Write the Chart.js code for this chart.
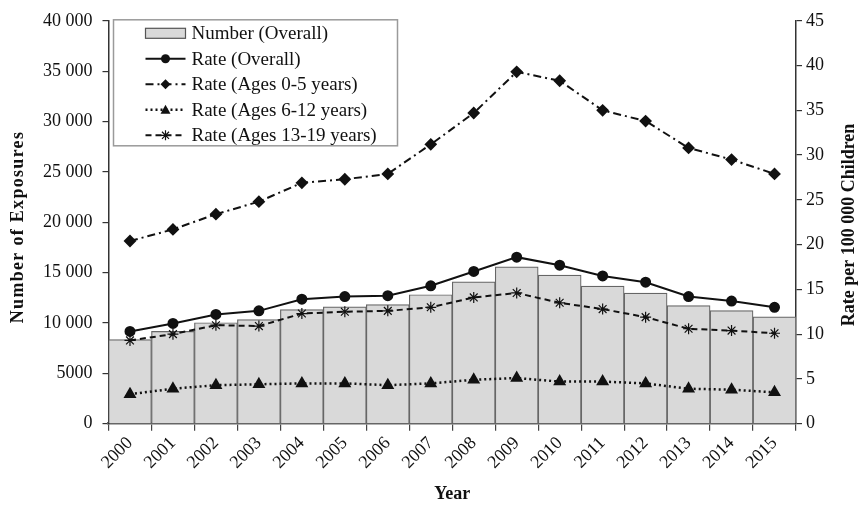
<!DOCTYPE html>
<html>
<head>
<meta charset="utf-8">
<script src="https://cdn.jsdelivr.net/npm/chart.js@4.4.1/dist/chart.umd.min.js"></script>
<style>
    html, body { margin: 0; padding: 0; background: #fff; }
    #wrap { position: relative; width: 862px; height: 505px; }
</style>
</head>
<body>
<div id="wrap"><canvas id="chart"></canvas></div>
<script>
// data
const years = ['2000', '2001', '2002', '2003', '2004', '2005', '2006', '2007',
               '2008', '2009', '2010', '2011', '2012', '2013', '2014', '2015'];
const numberOverall = [8350, 9160, 10020, 10340, 11330, 11590, 11820, 12800,
                       14090, 15570, 14750, 13660, 12970, 11720, 11230, 10610];
const rateOverall = [10.3, 11.2, 12.2, 12.6, 13.9, 14.2, 14.3, 15.4,
                     17.0, 18.6, 17.7, 16.5, 15.8, 14.2, 13.7, 13.0];
const rateAges0to5 = [20.4, 21.7, 23.4, 24.8, 26.9, 27.3, 27.9, 31.2,
                      34.7, 39.3, 38.3, 35.0, 33.8, 30.8, 29.5, 27.9];
const rateAges6to12 = [3.3, 3.9, 4.3, 4.4, 4.5, 4.5, 4.3, 4.5,
                       4.9, 5.1, 4.7, 4.7, 4.5, 3.9, 3.8, 3.5];
const rateAges13to19 = [9.3, 10.0, 11.0, 10.9, 12.3, 12.5, 12.6, 13.0,
                        14.1, 14.6, 13.5, 12.8, 11.9, 10.6, 10.4, 10.1];
const leftTickLabels = ['0', '5000', '10 000', '15 000', '20 000', '25 000', '30 000', '35 000', '40 000'];

const serif = '"Liberation Serif", "Times New Roman", serif';
const ink = '#111';

const legendItems = [
    { text: 'Number (Overall)', bar: true },
    { text: 'Rate (Overall)', dash: [], marker: 'circle' },
    { text: 'Rate (Ages 0-5 years)', dash: [8, 4, 2, 4], marker: 'diamond' },
    { text: 'Rate (Ages 6-12 years)', dash: [2, 3], marker: 'triangle' },
    { text: 'Rate (Ages 13-19 years)', dash: [6, 4], marker: 'star' }
];

function marker(ctx, kind, x, y) {
    ctx.save();
    ctx.setLineDash([]);
    ctx.fillStyle = ink;
    ctx.strokeStyle = ink;
    ctx.beginPath();
    if (kind === 'circle') {
        ctx.arc(x, y, 4.5, 0, Math.PI * 2);
        ctx.fill();
    } else if (kind === 'diamond') {
        ctx.moveTo(x, y - 5); ctx.lineTo(x + 5, y); ctx.lineTo(x, y + 5); ctx.lineTo(x - 5, y);
        ctx.closePath(); ctx.fill();
    } else if (kind === 'triangle') {
        ctx.moveTo(x, y - 5); ctx.lineTo(x + 5, y + 4); ctx.lineTo(x - 5, y + 4);
        ctx.closePath(); ctx.fill();
    } else {
        ctx.lineWidth = 1.2;
        for (let a = 0; a < 4; a++) {
            const t = a * Math.PI / 4;
            ctx.moveTo(x - 5 * Math.cos(t), y - 5 * Math.sin(t));
            ctx.lineTo(x + 5 * Math.cos(t), y + 5 * Math.sin(t));
        }
        ctx.stroke();
    }
    ctx.restore();
}

// legend drawn inside the plot, top left, like the original
const insideLegend = {
    id: 'insideLegend',
    afterDraw(chart) {
        const ctx = chart.ctx;
        const area = chart.chartArea;
        const x0 = area.left + 5, y0 = area.top - 1;
        const w = 284, h = 126;
        ctx.save();
        ctx.fillStyle = '#fff';
        ctx.fillRect(x0, y0, w, h);
        ctx.strokeStyle = '#9a9a9a';
        ctx.lineWidth = 1.5;
        ctx.strokeRect(x0, y0, w, h);
        ctx.font = '19px ' + serif;
        ctx.textBaseline = 'middle';
        legendItems.forEach((item, i) => {
            const cy = y0 + 13.5 + i * 25.5;
            const sx = x0 + 32, ex = x0 + 72;
            if (item.bar) {
                ctx.fillStyle = '#d9d9d9';
                ctx.fillRect(sx, cy - 5, ex - sx, 10);
                ctx.strokeStyle = '#555';
                ctx.lineWidth = 1.2;
                ctx.strokeRect(sx, cy - 5, ex - sx, 10);
            } else {
                ctx.strokeStyle = ink;
                ctx.lineWidth = item.marker === 'triangle' ? 2.5 : 2;
                ctx.setLineDash(item.dash);
                ctx.beginPath();
                ctx.moveTo(sx, cy); ctx.lineTo(ex, cy);
                ctx.stroke();
                ctx.setLineDash([]);
                marker(ctx, item.marker, (sx + ex) / 2, cy);
            }
            ctx.fillStyle = ink;
            ctx.fillText(item.text, x0 + 78, cy + 1);
        });
        ctx.restore();
    }
};

// vertical axis titles
const sideTitles = {
    id: 'sideTitles',
    afterDraw(chart) {
        const ctx = chart.ctx;
        ctx.save();
        ctx.fillStyle = ink;
        ctx.font = 'bold 18px ' + serif;
        ctx.textAlign = 'center';
        ctx.textBaseline = 'middle';

        ctx.save();
        ctx.translate(18, 227);
        ctx.rotate(-Math.PI / 2);
        ctx.letterSpacing = '1.3px';
        ctx.fillText('Number of Exposures', 0, 0);
        ctx.restore();

        ctx.save();
        ctx.translate(849, 225);
        ctx.rotate(-Math.PI / 2);
        ctx.fillText('Rate per 100 000 Children', 0, 0);
        ctx.restore();

        ctx.restore();
    }
};

const lineBase = {
    type: 'line',
    yAxisID: 'yRate',
    borderColor: ink,
    backgroundColor: ink,
    pointBorderColor: ink,
    pointBackgroundColor: ink,
    fill: false,
    tension: 0,
    order: 1
};

new Chart(document.getElementById('chart').getContext('2d'), {
    data: {
        labels: years,
        datasets: [
            {
                type: 'bar',
                label: 'Number (Overall)',
                data: numberOverall,
                yAxisID: 'yNum',
                backgroundColor: '#d9d9d9',
                borderColor: '#666',
                borderWidth: 1.2,
                barPercentage: 1,
                categoryPercentage: 1,
                order: 10
            },
            Object.assign({}, lineBase, {
                label: 'Rate (Overall)',
                data: rateOverall,
                borderWidth: 2,
                pointStyle: 'circle',
                pointRadius: 4.5
            }),
            Object.assign({}, lineBase, {
                label: 'Rate (Ages 0-5 years)',
                data: rateAges0to5,
                borderWidth: 2,
                borderDash: [8, 4, 2, 4],
                pointStyle: 'rectRot',
                pointRadius: 5
            }),
            Object.assign({}, lineBase, {
                label: 'Rate (Ages 6-12 years)',
                data: rateAges6to12,
                borderWidth: 2.5,
                borderDash: [2, 3],
                pointStyle: 'triangle',
                pointRadius: 5
            }),
            Object.assign({}, lineBase, {
                label: 'Rate (Ages 13-19 years)',
                data: rateAges13to19,
                borderWidth: 2,
                borderDash: [6, 4],
                pointStyle: 'star',
                pointRadius: 5.5,
                pointBorderWidth: 1.2
            })
        ]
    },
    options: {
        responsive: true,
        maintainAspectRatio: false,
        animation: false,
        layout: { padding: { top: 8, left: 33, right: 34, bottom: 0 } },
        plugins: {
            legend: { display: false },
            tooltip: { enabled: false }
        },
        scales: {
            x: {
                offset: true,
                grid: { offset: true, drawOnChartArea: false, drawTicks: true, tickLength: 7, color: '#444', lineWidth: 1.2 },
                border: { display: true, color: '#666', width: 2.5 },
                ticks: {
                    color: ink,
                    font: { family: serif, size: 18 },
                    minRotation: 45,
                    maxRotation: 45,
                    padding: 2
                },
                title: {
                    display: true,
                    text: 'Year',
                    color: ink,
                    font: { family: serif, size: 18, weight: 'bold' },
                    padding: { top: 8, bottom: 0 }
                }
            },
            yNum: {
                position: 'left',
                min: 0,
                max: 40000,
                ticks: {
                    stepSize: 5000,
                    color: ink,
                    font: { family: serif, size: 18 },
                    padding: 10,
                    callback: (v, i) => leftTickLabels[i]
                },
                grid: { drawOnChartArea: false, drawTicks: true, tickLength: 6, color: '#333', lineWidth: 1.2 },
                border: { display: true, color: '#333', width: 1.5 }
            },
            yRate: {
                position: 'right',
                min: 0,
                max: 45,
                ticks: {
                    stepSize: 5,
                    color: ink,
                    font: { family: serif, size: 18 },
                    padding: 4
                },
                grid: { drawOnChartArea: false, drawTicks: true, tickLength: 6, color: '#333', lineWidth: 1.2 },
                border: { display: true, color: '#333', width: 1.5 }
            }
        }
    },
    plugins: [insideLegend, sideTitles]
});
</script>
</body>
</html>
